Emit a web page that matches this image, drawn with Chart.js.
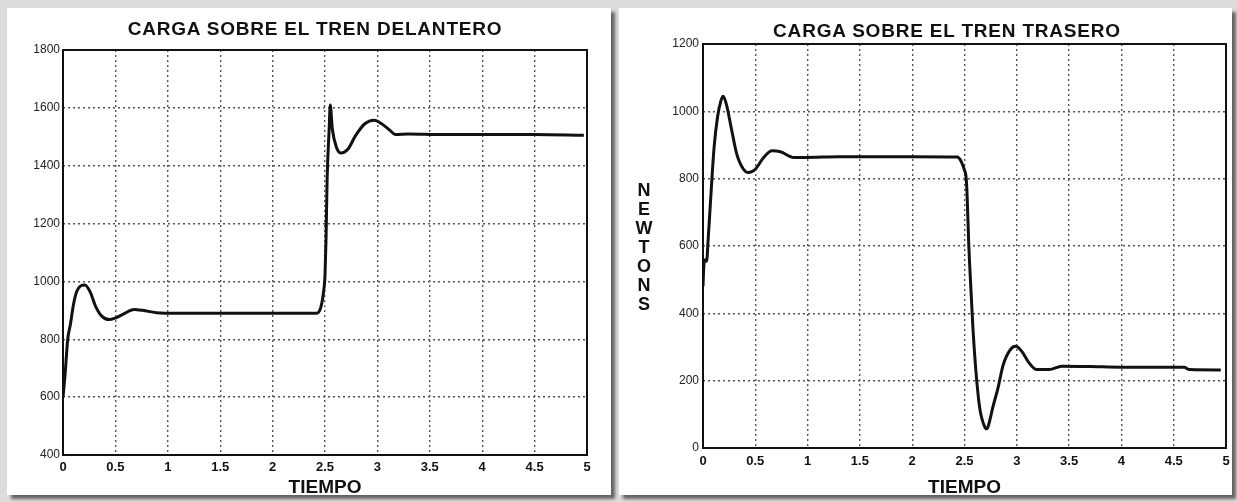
<!DOCTYPE html>
<html>
<head>
<meta charset="utf-8">
<script src="https://cdn.jsdelivr.net/npm/chart.js@4.4.1/dist/chart.umd.min.js"></script>
<style>
  body { margin: 0; width: 1237px; height: 502px; background: #dcdcdc; position: relative; overflow: hidden; font-family: "Liberation Sans", Arial, sans-serif; }
  .card { position: absolute; top: 8px; height: 487px; background: #fff; box-shadow: 4px 4px 3px rgba(0,0,0,0.55); }
  canvas { position: absolute; top: 8px; }
  .titulo { position: absolute; font-weight: bold; font-size: 19px; letter-spacing: 0.8px; color: #111; white-space: nowrap; transform: translate(-50%, -50%); }
  .vertical { position: absolute; font-weight: bold; font-size: 18px; line-height: 19px; width: 20px; text-align: center; color: #111; }
</style>
</head>
<body>
<div class="card" style="left:7px; width:604px;"></div>
<div class="card" style="left:619px; width:613px;"></div>
<canvas id="delantero" width="604" height="487" style="left:7px;"></canvas>
<canvas id="trasero" width="630" height="487" style="left:619px;"></canvas>
<div class="titulo" style="left:315px; top:29px;">CARGA SOBRE EL TREN DELANTERO</div>
<div class="titulo" style="left:947px; top:31px;">CARGA SOBRE EL TREN TRASERO</div>
<div class="vertical" style="left:634px; top:181px;">N<br>E<br>W<br>T<br>O<br>N<br>S</div>

<script>
// Tiempo (s) y carga (N)
const tiempoDel = [0, 0.02, 0.045, 0.07, 0.1, 0.13, 0.17, 0.21, 0.26, 0.31, 0.37, 0.44, 0.49, 0.57, 0.68, 0.76, 0.89, 1.1, 1.5, 2.0, 2.42, 2.46, 2.49, 2.5, 2.51, 2.52, 2.54, 2.55, 2.57, 2.61, 2.65, 2.72, 2.79, 2.88, 2.97, 3.04, 3.12, 3.17, 3.3, 3.6, 4.0, 4.5, 4.97];
const cargaDel = [600, 680, 800, 850, 920, 964, 985, 988, 963, 915, 880, 868, 872, 886, 903, 900, 892, 890, 890, 890, 890, 910, 975, 1020, 1150, 1350, 1530, 1610, 1527, 1463, 1444, 1458, 1503, 1545, 1557, 1545, 1522, 1508, 1510, 1508, 1508, 1508, 1505];

const tiempoTra = [0, 0.01, 0.025, 0.035, 0.048, 0.074, 0.106, 0.139, 0.171, 0.193, 0.226, 0.275, 0.323, 0.387, 0.435, 0.5, 0.58, 0.66, 0.74, 0.87, 0.98, 1.3, 2.0, 2.43, 2.47, 2.5, 2.515, 2.525, 2.54, 2.56, 2.58, 2.61, 2.645, 2.69, 2.715, 2.74, 2.77, 2.82, 2.87, 2.935, 2.99, 3.05, 3.11, 3.19, 3.31, 3.43, 3.7, 4.0, 4.6, 4.65, 4.95];
const cargaTra = [480, 550, 560, 555, 613, 743, 893, 983, 1031, 1045, 1018, 943, 873, 828, 818, 828, 863, 883, 880, 863, 863, 865, 865, 864, 850, 825, 805, 750, 610, 480, 360, 225, 120, 65, 57, 80, 120, 178, 247, 291, 302, 286, 256, 233, 233, 243, 242, 240, 240, 233, 232];

const ticksTiempo = [0, 0.5, 1, 1.5, 2, 2.5, 3, 3.5, 4, 4.5, 5];
const ticksDel = [400, 600, 800, 1000, 1200, 1400, 1600, 1800];
const ticksTra = [0, 200, 400, 600, 800, 1000, 1200];

// marco negro alrededor del area de trazado
const marco = {
    id: 'marco',
    afterDatasetsDraw(chart) {
        const a = chart.chartArea;
        const ctx = chart.ctx;
        ctx.save();
        ctx.strokeStyle = '#111';
        ctx.lineWidth = 2;
        ctx.strokeRect(a.left, a.top, a.right - a.left, a.bottom - a.top);
        ctx.restore();
    }
};

function crearGrafico(id, tiempos, cargas, ticksY, cfg) {
    const grid = { color: '#555', lineWidth: 1.4, drawTicks: false };
    const borde = { display: false, dash: [2, 3] };
    return new Chart(document.getElementById(id), {
        type: 'line',
        data: {
            datasets: [{
                data: tiempos.map((t, i) => ({ x: t, y: cargas[i] })),
                borderColor: '#111',
                borderWidth: 3,
                pointRadius: 0,
                cubicInterpolationMode: 'monotone'
            }]
        },
        options: {
            responsive: false,
            animation: false,
            layout: { padding: { top: cfg.top, right: cfg.right, left: 0, bottom: 0 } },
            plugins: { legend: { display: false }, tooltip: { enabled: false } },
            scales: {
                x: {
                    type: 'linear',
                    min: 0,
                    max: 5,
                    afterBuildTicks: s => { s.ticks = ticksTiempo.map(v => ({ value: v })); },
                    afterFit: s => { s.height = cfg.xHeight; },
                    grid: grid,
                    border: borde,
                    ticks: { color: '#111', padding: cfg.xPad, maxRotation: 0, callback: v => String(v), font: { family: 'Liberation Sans', size: 13, weight: 'bold' } },
                    title: { display: true, text: 'TIEMPO', color: '#111', padding: 0, font: { family: 'Liberation Sans', size: 19, weight: 'bold', lineHeight: 0.8 } }
                },
                y: {
                    min: ticksY[0],
                    max: ticksY[ticksY.length - 1],
                    afterBuildTicks: s => { s.ticks = ticksY.map(v => ({ value: v })); },
                    afterFit: s => { s.width = cfg.yWidth; },
                    grid: grid,
                    border: borde,
                    ticks: { color: '#222', padding: cfg.yPad, callback: v => String(v), font: { family: 'Liberation Sans', size: 12 } }
                }
            }
        },
        plugins: [marco]
    });
}

crearGrafico('delantero', tiempoDel, cargaDel, ticksDel, { top: 42, right: 24, xHeight: 40, yWidth: 56, xPad: 5, yPad: 3 });
crearGrafico('trasero', tiempoTra, cargaTra, ticksTra, { top: 36, right: 23, xHeight: 47, yWidth: 84, xPad: 6, yPad: 4 });
</script>
</body>
</html>
